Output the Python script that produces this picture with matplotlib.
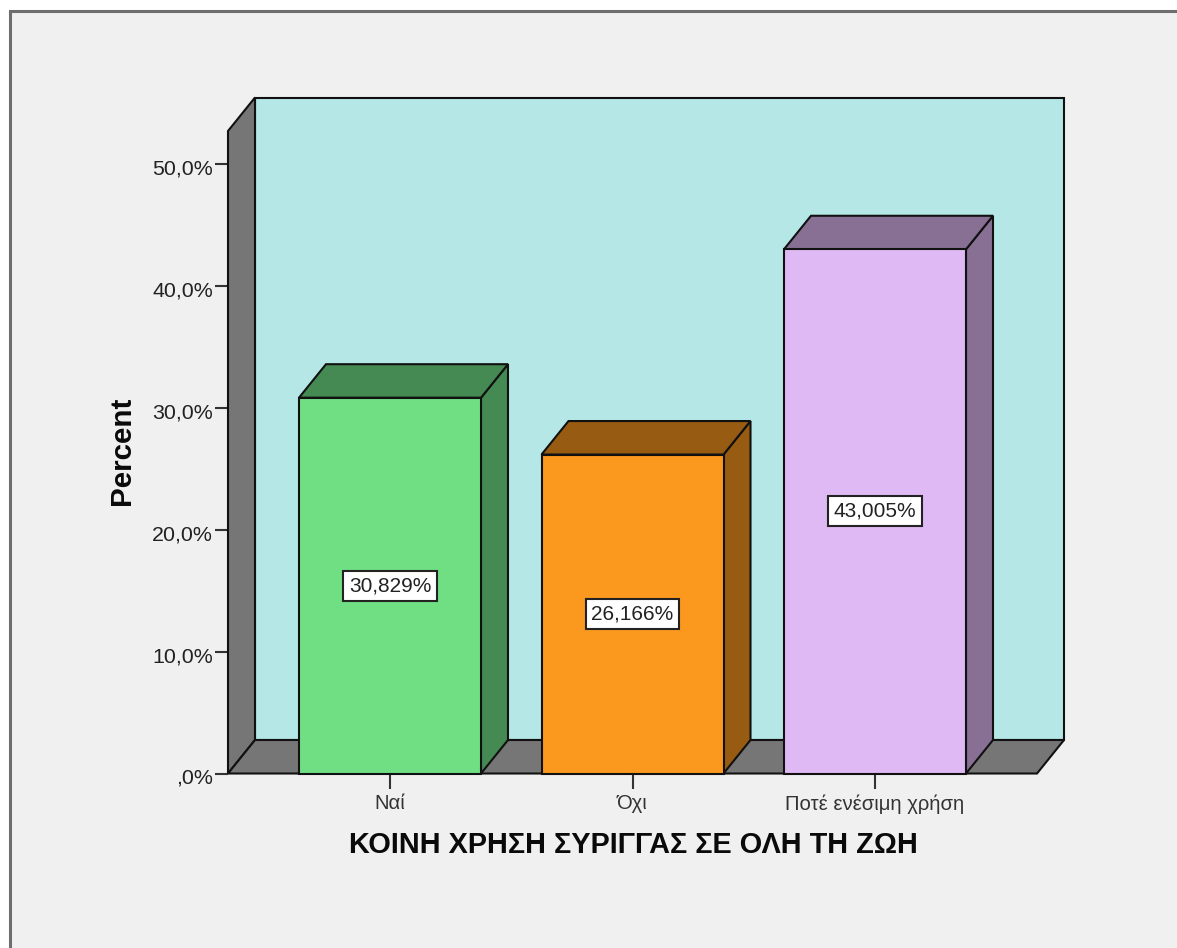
import matplotlib
matplotlib.use('Agg')
import matplotlib.pyplot as plt
from matplotlib.patches import Polygon, Rectangle
from matplotlib.transforms import ScaledTranslation

plt.rcParams['font.family'] = ['Liberation Sans', 'DejaVu Sans']

# data
categories = ['Ναί', 'Όχι', 'Ποτέ ενέσιμη χρήση']
percents = [30.829, 26.166, 43.005]
labels = ['30,829%', '26,166%', '43,005%']
yticks = [0, 10, 20, 30, 40, 50]
yticklabels = [',0%', '10,0%', '20,0%', '30,0%', '40,0%', '50,0%']

# colors
FRONT = ['#70DF84', '#FB981E', '#DFB9F3']
SIDE = ['#458A53', '#985B12', '#887095']
WALL = '#B5E7E7'
GREY = '#767676'
BG = '#F0F0F0'

W, H = 1177, 948
DPI = 100
EDGE = '#111111'

fig = plt.figure(figsize=(W / DPI, H / DPI), dpi=DPI, facecolor='white')

# panel background with the grey frame
fig.add_artist(Rectangle((10 / W, -5 / H), 1.1, (948 + 5 - 11) / H, transform=fig.transFigure,
                         facecolor=BG, edgecolor='#6E6E6E', linewidth=2.2, zorder=-1))

ax = fig.add_axes([228 / W, (H - 773.5) / H, (1037 - 228) / W, (773.5 - 131) / H])
ax.patch.set_visible(False)
for s in ax.spines.values():
    s.set_visible(False)

STEP = 242.5        # px between categories
PX_Y = 12.19        # px per percent
x0, x1 = -162 / STEP, 2 + 162 / STEP
y_top = 642.5 / PX_Y
dx, dy = 27 / STEP, 33.5 / PX_Y
bw = 182 / STEP

ax.set_xlim(x0, x1)
ax.set_ylim(0, y_top)


def poly(pts, color, z):
    ax.add_patch(Polygon(pts, closed=True, facecolor=color, edgecolor=EDGE,
                         linewidth=1.5, joinstyle='miter', clip_on=False, zorder=z))


# back wall, left wall, floor
poly([(x0 + dx, dy), (x1 + dx, dy), (x1 + dx, y_top + dy), (x0 + dx, y_top + dy)], WALL, 1)
poly([(x0, 0), (x0 + dx, dy), (x0 + dx, y_top + dy), (x0, y_top)], GREY, 2)
poly([(x0, 0), (x1, 0), (x1 + dx, dy), (x0 + dx, dy)], GREY, 2)

for i, v in enumerate(percents):
    l, r = i - bw / 2, i + bw / 2
    poly([(r, 0), (r + dx, dy), (r + dx, v + dy), (r, v)], SIDE[i], 3)
    poly([(l, v), (r, v), (r + dx, v + dy), (l + dx, v + dy)], SIDE[i], 3)
    ax.bar(i, v, width=bw, color=FRONT[i], edgecolor=EDGE, linewidth=1.5, zorder=4, clip_on=False)
    ax.text(i, v / 2, labels[i], ha='center', va='center', fontsize=15, color='#222222', zorder=5,
            bbox=dict(boxstyle='square,pad=0.26', facecolor='white', edgecolor='#222222', linewidth=1.5))

ax.set_xticks(range(len(categories)))
ax.set_xticklabels(categories, fontsize=14.6, color='#333333')
ax.set_yticks(yticks)
ax.set_yticklabels(yticklabels, fontsize=15.4, color='#222222')
ax.tick_params(axis='x', length=10.8, width=1.5, color='#333333', pad=4)
ax.tick_params(axis='y', length=9.4, width=1.5, color='#333333', pad=1.5)

# y labels sit a little under their ticks
down = ScaledTranslation(0, -3 / DPI, fig.dpi_scale_trans)
for lab in ax.get_yticklabels():
    lab.set_transform(lab.get_transform() + down)

fig.text(122 / W, (H - 451) / H, 'Percent', rotation=90, ha='center', va='center',
         fontsize=21.3, fontweight='bold', color='#0A0A0A')
fig.text(633.5 / W, (H - 845) / H, 'ΚΟΙΝΗ ΧΡΗΣΗ ΣΥΡΙΓΓΑΣ ΣΕ ΟΛΗ ΤΗ ΖΩΗ', ha='center', va='center',
         fontsize=20.8, fontweight='bold', color='#0A0A0A')

fig.savefig('out.png', dpi=DPI)
